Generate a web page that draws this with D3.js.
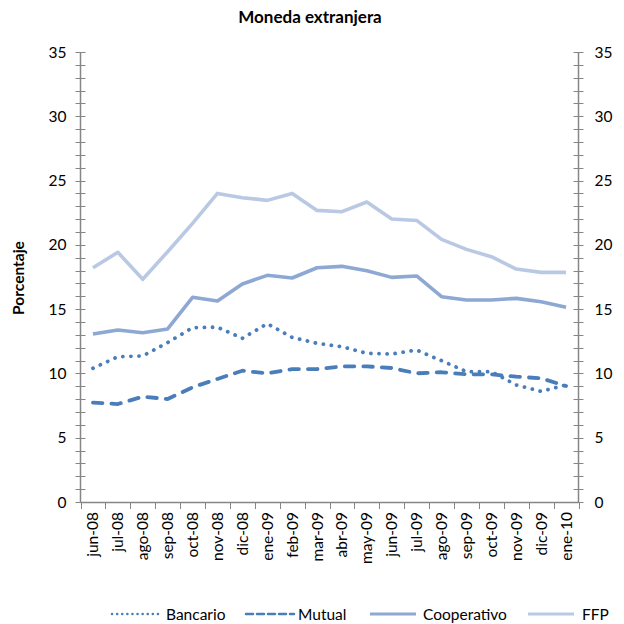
<!DOCTYPE html>
<html><head><meta charset="utf-8">
<script src="https://cdn.jsdelivr.net/npm/d3@7"></script>
<style>body{margin:0;background:#fff}svg{display:block}text{font-family:Lato,"Open Sans",sans-serif}</style>
</head><body>
<script>
const categories=["jun-08","jul-08","ago-08","sep-08","oct-08","nov-08","dic-08","ene-09","feb-09","mar-09","abr-09","may-09","jun-09","jul-09","ago-09","sep-09","oct-09","nov-09","dic-09","ene-10"];
const bancario=[10.4,11.3,11.36,12.4,13.56,13.6,12.73,13.87,12.8,12.34,12.08,11.56,11.51,11.82,10.99,10.14,10.14,9.1,8.6,9.1];
const mutual=[7.73,7.62,8.19,8.01,8.92,9.57,10.21,10.01,10.34,10.34,10.55,10.55,10.42,10.01,10.09,9.93,9.93,9.75,9.62,9.02];
const cooperativo=[13.07,13.38,13.17,13.46,15.92,15.63,16.96,17.63,17.42,18.22,18.33,17.99,17.47,17.58,15.97,15.71,15.71,15.84,15.58,15.14];
const ffp=[18.22,19.42,17.32,19.47,21.67,24.0,23.67,23.46,24.0,22.68,22.58,23.33,22.01,21.9,20.43,19.65,19.08,18.12,17.86,17.86];
const yTicks=[0,5,10,15,20,25,30,35];
const seriesNames=["Bancario","Mutual","Cooperativo","FFP"];

const W=624,H=624;
const svg=d3.select("body").append("svg").attr("width",W).attr("height",H);
const L=80.5,R=578.5,T=52,B=502;
const x=d3.scaleBand().domain(categories).range([L,R]);
const y=d3.scaleLinear().domain([0,35]).range([B,T]);
const axisCol="#868686";

svg.append("text").attr("x",310).attr("y",23).attr("text-anchor","middle").attr("font-weight","bold").attr("font-size",17).text("Moneda extranjera");
svg.append("text").attr("transform","translate(24,278) rotate(-90)").attr("text-anchor","middle").attr("font-weight","bold").attr("font-size",15.5).text("Porcentaje");

const minor=d3.range(0,36,1);
function yAxisDraw(xpos,side){
  const g=svg.append("g");
  g.append("line").attr("x1",xpos).attr("x2",xpos).attr("y1",T).attr("y2",B).attr("stroke",axisCol).attr("stroke-width",1.5);
  g.selectAll("line.t").data(minor).enter().append("line").attr("class","t")
   .attr("x1",xpos-5).attr("x2",xpos+5).attr("y1",d=>Math.round(y(d))+0.5).attr("y2",d=>Math.round(y(d))+0.5)
   .attr("stroke",axisCol).attr("stroke-width",1);
  g.selectAll("text").data(yTicks).enter().append("text")
   .attr("x",side<0?xpos-14:xpos+16).attr("y",d=>y(d)+5.5)
   .attr("text-anchor",side<0?"end":"start").attr("font-size",15.5).attr("fill","#000").text(d=>d);
}
yAxisDraw(L,-1);yAxisDraw(R,1);

svg.append("line").attr("x1",L).attr("x2",R).attr("y1",B+0.5).attr("y2",B+0.5).attr("stroke",axisCol).attr("stroke-width",1.5);
const bounds=categories.map(c=>x(c)).concat([R]);
svg.selectAll("line.xt").data(bounds).enter().append("line").attr("class","xt")
  .attr("x1",d=>Math.round(d)+0.5).attr("x2",d=>Math.round(d)+0.5).attr("y1",B).attr("y2",B+7).attr("stroke",axisCol).attr("stroke-width",1);
svg.selectAll("text.xl").data(categories).enter().append("text").attr("class","xl")
  .attr("transform",d=>`translate(${x(d)+x.bandwidth()/2+5.5},512) rotate(-90)`)
  .attr("text-anchor","end").attr("font-size",15.5).text(d=>d);

const line=d3.line().x((d,i)=>x(categories[i])+x.bandwidth()/2).y(d=>y(d));
const styles=[
  {data:bancario,color:"#4A7EBB",dash:"0.1 8",cap:"round",w:3.8},
  {data:mutual,color:"#4A7EBB",dash:"9.5 9",cap:"round",w:3.8},
  {data:cooperativo,color:"#8EA8D4",dash:null,cap:"butt",w:3.6},
  {data:ffp,color:"#B9C9E3",dash:null,cap:"butt",w:3.6}
];
[3,2,1,0].forEach(i=>{
  const s=styles[i];
  svg.append("path").datum(s.data).attr("d",line).attr("fill","none").attr("stroke",s.color)
   .attr("stroke-width",s.w).attr("stroke-linecap",s.cap).attr("stroke-linejoin","round")
   .attr("stroke-dasharray",s.dash);
});

const legX=[112,246,370,528],legTX=[166,298,423,582];
seriesNames.forEach((n,i)=>{
  const s=styles[i];
  svg.append("line").attr("x1",legX[i]).attr("x2",i<2?legX[i]+48:legX[i]+46).attr("y1",614).attr("y2",614)
   .attr("stroke",s.color).attr("stroke-width",i<2?2.5:3).attr("stroke-linecap",s.cap)
   .attr("stroke-dasharray",i==0?"0.1 5":(i==1?"7 4":null));
  svg.append("text").attr("x",legTX[i]).attr("y",619.5).attr("font-size",15.5).text(n);
});
</script>
</body></html>
